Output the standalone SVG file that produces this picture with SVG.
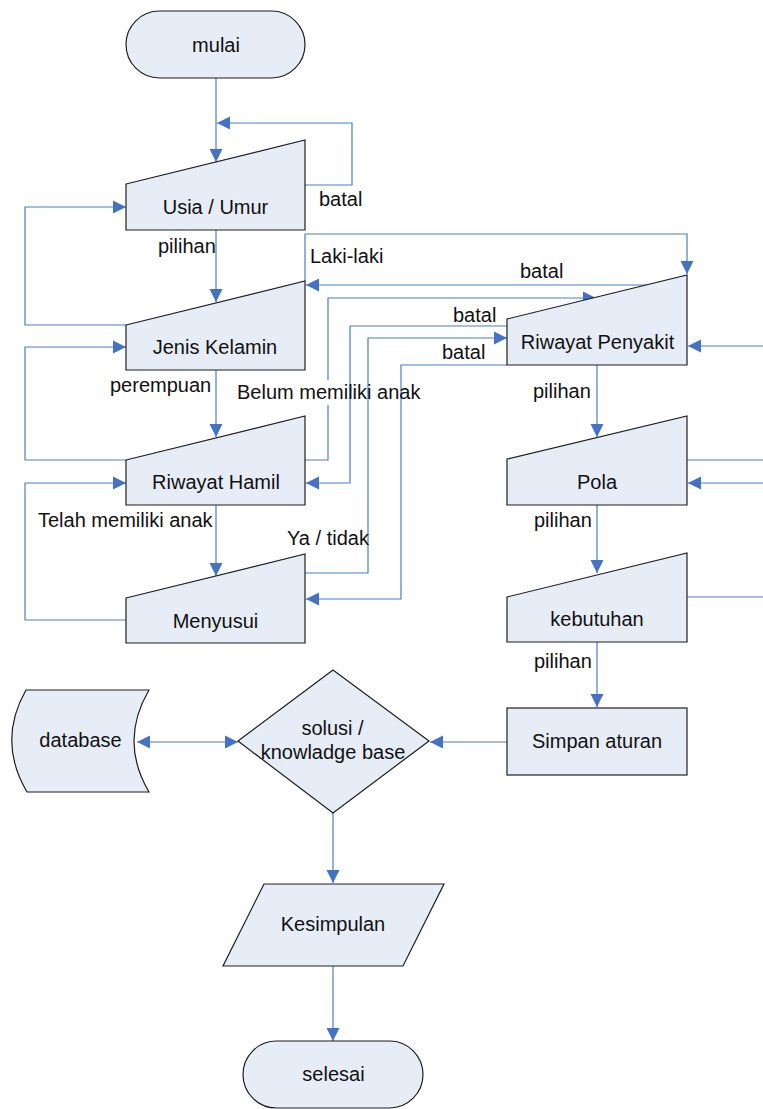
<svg xmlns="http://www.w3.org/2000/svg" width="763" height="1109" viewBox="0 0 763 1109">
  <style>
    .node { fill: #E7EDF7; stroke: #1E1E1E; stroke-width: 1.2; }
    .txt { font-family: "Liberation Sans", Arial, sans-serif; font-size: 20px; fill: #111; }
    .mid { text-anchor: middle; }
    .conn { fill: none; stroke: #4A7EC4; stroke-width: 1.2; }
    .arr { marker-end: url(#head); }
  </style>
  <defs>
    <marker id="head" markerUnits="userSpaceOnUse" markerWidth="14" markerHeight="14" refX="13" refY="7" orient="auto-start-reverse">
      <path d="M0,0.5 L13,7 L0,13.5 z" fill="#4472C4"/>
    </marker>
  </defs>

  <rect width="763" height="1109" fill="#FFFFFF"/>

  <!-- connectors -->
  <g id="connectors">
    <path class="conn arr" d="M216,78 V162"/>
    <path class="conn arr" d="M305,185 H352 V123 H217"/>
    <path class="conn arr" d="M216,230 V302"/>
    <path class="conn arr" d="M126,325 H25 V207 H126"/>
    <path class="conn arr" d="M305,281 V234 H687 V274"/>
    <path class="conn arr" d="M647,285 H306"/>
    <path class="conn arr" d="M216,370 V437"/>
    <path class="conn arr" d="M126,460 H25 V347 H126"/>
    <path class="conn arr" d="M305,460 H328 V405 M328,380 V298 H596"/>
    <path class="conn arr" d="M507,326 H350 V483 H306"/>
    <path class="conn arr" d="M216,505 V576"/>
    <path class="conn arr" d="M126,620 H25 V483 H126"/>
    <path class="conn arr" d="M305,573 H368 V338 H507"/>
    <path class="conn arr" d="M507,365 H401 V599 H306"/>
    <path class="conn arr" d="M763,346 H688"/>
    <path class="conn arr" d="M597,365 V437"/>
    <path class="conn" d="M687,460 H763"/>
    <path class="conn arr" d="M763,483 H688"/>
    <path class="conn arr" d="M597,505 V573"/>
    <path class="conn" d="M687,597 H763"/>
    <path class="conn arr" d="M597,642 V707"/>
    <path class="conn arr" d="M507,742 H430"/>
    <path class="conn arr" d="M137,742 H238" marker-start="url(#head)"/>
    <path class="conn arr" d="M333,813 V883"/>
    <path class="conn arr" d="M333,966 V1041"/>

    <text class="txt" x="319" y="206">batal</text>
    <text class="txt" x="158" y="253">pilihan</text>
    <text class="txt" x="310" y="263">Laki-laki</text>
    <text class="txt" x="520" y="278">batal</text>
    <text class="txt" x="453" y="322">batal</text>
    <text class="txt" x="442" y="359">batal</text>
    <text class="txt" x="110" y="392">perempuan</text>
    <text class="txt" x="237" y="399">Belum memiliki anak</text>
    <text class="txt" x="533" y="398">pilihan</text>
    <text class="txt" x="38" y="527">Telah memiliki anak</text>
    <text class="txt" x="534" y="527">pilihan</text>
    <text class="txt" x="287" y="545">Ya / tidak</text>
    <text class="txt" x="534" y="668">pilihan</text>
  </g>

  <!-- nodes -->
  <g id="mulai">
    <rect class="node" x="126" y="11" width="179" height="67" rx="33.5"/>
    <text class="txt mid" x="216" y="52">mulai</text>
  </g>
  <g id="usia">
    <polygon class="node" points="126,184 305,140 305,230 126,230"/>
    <text class="txt mid" x="215.5" y="214">Usia / Umur</text>
  </g>
  <g id="jenis-kelamin">
    <polygon class="node" points="126,325 305,281 305,370 126,370"/>
    <text class="txt mid" x="215" y="354">Jenis Kelamin</text>
  </g>
  <g id="riwayat-hamil">
    <polygon class="node" points="126,460 305,416 305,505 126,505"/>
    <text class="txt mid" x="216" y="489">Riwayat Hamil</text>
  </g>
  <g id="menyusui">
    <polygon class="node" points="126,598 305,554 305,643 126,643"/>
    <text class="txt mid" x="215.5" y="628">Menyusui</text>
  </g>
  <g id="riwayat-penyakit">
    <polygon class="node" points="507,319 687,275 687,365 507,365"/>
    <text class="txt mid" x="597.5" y="349">Riwayat Penyakit</text>
  </g>
  <g id="pola">
    <polygon class="node" points="507,459 687,416 687,505 507,505"/>
    <text class="txt mid" x="597" y="489">Pola</text>
  </g>
  <g id="kebutuhan">
    <polygon class="node" points="507,597 687,553 687,642 507,642"/>
    <text class="txt mid" x="597" y="626">kebutuhan</text>
  </g>
  <g id="simpan-aturan">
    <rect class="node" x="507" y="708" width="180" height="67"/>
    <text class="txt mid" x="597" y="748">Simpan aturan</text>
  </g>
  <g id="solusi">
    <polygon class="node" points="238,741 333,670 429,741 333,813"/>
    <text class="txt mid" x="332.5" y="735">solusi /</text>
    <text class="txt mid" x="333" y="759">knowladge base</text>
  </g>
  <g id="database">
    <path class="node" d="M26,690 H149 Q119,741 149,792 H27 Q-3,741 26,690 Z"/>
    <text class="txt mid" x="80.5" y="747">database</text>
  </g>
  <g id="kesimpulan">
    <polygon class="node" points="264,884 444,884 403,966 223,966"/>
    <text class="txt mid" x="333" y="931">Kesimpulan</text>
  </g>
  <g id="selesai">
    <rect class="node" x="243" y="1041" width="180" height="67" rx="33.5"/>
    <text class="txt mid" x="333.5" y="1081">selesai</text>
  </g>
</svg>
